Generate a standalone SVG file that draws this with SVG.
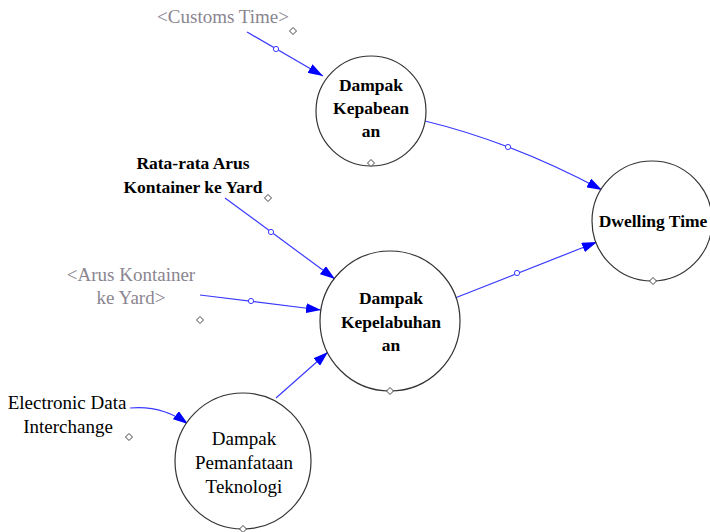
<svg xmlns="http://www.w3.org/2000/svg" width="710" height="532" viewBox="0 0 710 532">
<style>
.node{fill:#fff;stroke:#333;stroke-width:1.2}
.t{font-family:'Liberation Serif','Times New Roman',serif;font-size:19px;text-anchor:middle;fill:#000}
.b{font-weight:bold;font-size:17.5px}
.g{fill:#8a8590}
.lk{fill:none;stroke:#3a3aff;stroke-width:1.2}
.hc{fill:#fff;stroke:#3a3aff;stroke-width:1}
.dm{fill:#fff;stroke:#444;stroke-width:1}
</style>
<defs>
<marker id="arr" viewBox="0 0 15 10" refX="15" refY="5" markerWidth="15" markerHeight="10" orient="auto" markerUnits="userSpaceOnUse">
<path d="M0,0 L15,5 L0,10 z" fill="#0000ff"/>
</marker>
<path id="dia" d="M0,-3.5 L3.5,0 L0,3.5 L-3.5,0 z"/>
</defs>
<rect width="710" height="532" fill="#fff"/>

<g id="connectors">
<path class="lk" d="M247,32 L323,76" marker-end="url(#arr)"/>
<circle class="hc" cx="276" cy="49" r="2.6"/>
<path class="lk" d="M425,121 Q512,142 602,190" marker-end="url(#arr)"/>
<circle class="hc" cx="508" cy="147" r="2.6"/>
<path class="lk" d="M455,298 L597,242" marker-end="url(#arr)"/>
<circle class="hc" cx="517" cy="273" r="2.6"/>
<path class="lk" d="M225,198 L335,279" marker-end="url(#arr)"/>
<circle class="hc" cx="271" cy="232" r="2.6"/>
<path class="lk" d="M200,295 L321,310" marker-end="url(#arr)"/>
<circle class="hc" cx="251" cy="301" r="2.6"/>
<path class="lk" d="M276,398 L328,352" marker-end="url(#arr)"/>
<path class="lk" d="M130,408 Q162,405 188,424" marker-end="url(#arr)"/>
</g>

<g id="customs-time">
<text class="t g" x="223" y="23">&lt;Customs Time&gt;</text>
<use href="#dia" class="dm" x="293" y="31"/>
</g>

<g id="dampak-kepabeanan">
<circle class="node" cx="371" cy="111" r="55"/>
<text class="t b" x="371" y="91">Dampak</text>
<text class="t b" x="371" y="114">Kepabean</text>
<text class="t b" x="371" y="137">an</text>
<use href="#dia" class="dm" x="371" y="163"/>
</g>

<g id="dwelling-time">
<circle class="node" cx="652" cy="221" r="60"/>
<text class="t b" x="653" y="227">Dwelling Time</text>
<use href="#dia" class="dm" x="653" y="281"/>
</g>

<g id="rata-rata">
<text class="t b" x="193" y="169">Rata-rata Arus</text>
<text class="t b" x="193" y="193">Kontainer ke Yard</text>
<use href="#dia" class="dm" x="268" y="198"/>
</g>

<g id="arus-kontainer">
<text class="t g" x="131" y="281">&lt;Arus Kontainer</text>
<text class="t g" x="131" y="304">ke Yard&gt;</text>
<use href="#dia" class="dm" x="200" y="320"/>
</g>

<g id="dampak-kepelabuhanan">
<circle class="node" cx="390" cy="321" r="70"/>
<text class="t b" x="391" y="304">Dampak</text>
<text class="t b" x="391" y="328">Kepelabuhan</text>
<text class="t b" x="391" y="351">an</text>
<use href="#dia" class="dm" x="390" y="391"/>
</g>

<g id="electronic-data">
<text class="t" x="67" y="409">Electronic Data</text>
<text class="t" x="68" y="433">Interchange</text>
<use href="#dia" class="dm" x="129" y="437"/>
</g>

<g id="dampak-teknologi">
<circle class="node" cx="243" cy="461" r="68"/>
<text class="t" x="244" y="445">Dampak</text>
<text class="t" x="244" y="469">Pemanfataan</text>
<text class="t" x="244" y="493">Teknologi</text>
<use href="#dia" class="dm" x="243" y="529"/>
</g>
</svg>
